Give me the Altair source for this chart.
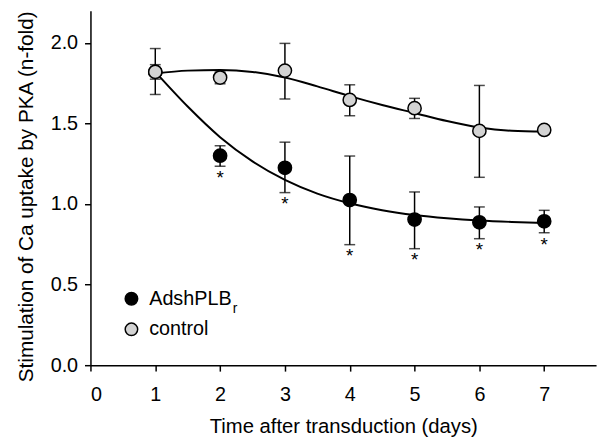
import altair as alt
import pandas as pd

# ---- data ----
days = [1, 2, 3, 4, 5, 6, 7]

sh_mean = [1.82, 1.30, 1.225, 1.025, 0.904, 0.887, 0.893]
sh_lo   = [1.68, 1.235, 1.071, 0.748, 0.723, 0.785, 0.822]
sh_hi   = [1.965, 1.362, 1.384, 1.298, 1.075, 0.982, 0.961]

ct_mean = [1.82, 1.785, 1.828, 1.646, 1.595, 1.454, 1.46]
ct_lo   = [1.775, 1.747, 1.652, 1.548, 1.531, 1.166, 1.44]
ct_hi   = [1.865, 1.82, 1.997, 1.74, 1.656, 1.736, 1.475]

star_days = [2, 3, 4, 5, 6, 7]

curve_t  = [1, 1.5, 2, 2.5, 3, 3.5, 4, 4.5, 5, 5.5, 6, 6.5, 7]
sh_curve = [1.82, 1.605, 1.415, 1.265, 1.15, 1.065, 1.005, 0.962, 0.932, 0.912, 0.898, 0.889, 0.883]
ct_curve = [1.81, 1.828, 1.832, 1.82, 1.785, 1.73, 1.67, 1.615, 1.565, 1.515, 1.475, 1.455, 1.45]

x_ticks = [0, 1, 2, 3, 4, 5, 6, 7]
y_ticks = [0.0, 0.5, 1.0, 1.5, 2.0]

legend_labels = ["AdshPLB", "control"]
legend_fills = ["#000000", "#d3d3d3"]

FONT = "Liberation Sans"

pts = pd.concat([
    pd.DataFrame({"day": days, "mean": sh_mean, "lo": sh_lo, "hi": sh_hi, "series": "sh"}),
    pd.DataFrame({"day": days, "mean": ct_mean, "lo": ct_lo, "hi": ct_hi, "series": "ct"}),
])
curves = pd.concat([
    pd.DataFrame({"t": curve_t, "v": sh_curve, "series": "sh"}),
    pd.DataFrame({"t": curve_t, "v": ct_curve, "series": "ct"}),
])
stars = pd.DataFrame({"day": star_days,
                      "lo": [sh_lo[days.index(d)] for d in star_days]})

xs = alt.Scale(domain=[0, 7.8], nice=False, zero=False)
ys = alt.Scale(domain=[0, 2.2], nice=False, zero=False)
fill_scale = alt.Scale(domain=["sh", "ct"], range=legend_fills)

x_axis = alt.Axis(values=x_ticks, format="d", title="Time after transduction (days)",
                  grid=False, labelPadding=14, titlePadding=12, titleFontSize=20.5)
y_axis = alt.Axis(values=y_ticks, format=".1f", title="Stimulation of Ca uptake by PKA (n-fold)",
                  grid=False, labelPadding=7, titlePadding=14, titleFontSize=21, titleY=188)

line = alt.Chart(curves).mark_line(color="black", strokeWidth=2, interpolate="monotone").encode(
    x=alt.X("t:Q", scale=xs, axis=x_axis),
    y=alt.Y("v:Q", scale=ys, axis=y_axis),
    detail="series:N",
)

def series_layers(key):
    d = pts[pts.series == key]
    base = alt.Chart(d)
    rule = base.mark_rule(color="black", strokeWidth=1.5).encode(
        x=alt.X("day:Q", scale=xs), y=alt.Y("lo:Q", scale=ys), y2="hi:Q")
    cap_lo = base.mark_tick(color="black", orient="horizontal", size=11, thickness=1.5).encode(
        x=alt.X("day:Q", scale=xs), y=alt.Y("lo:Q", scale=ys))
    cap_hi = base.mark_tick(color="black", orient="horizontal", size=11, thickness=1.5).encode(
        x=alt.X("day:Q", scale=xs), y=alt.Y("hi:Q", scale=ys))
    dot = base.mark_point(shape="circle", filled=True, size=180, stroke="black",
                          strokeWidth=1.5, opacity=1).encode(
        x=alt.X("day:Q", scale=xs), y=alt.Y("mean:Q", scale=ys),
        fill=alt.Fill("series:N", scale=fill_scale, legend=None))
    return [rule, cap_lo, cap_hi, dot]

star = alt.Chart(stars).mark_text(text="*", font=FONT, fontSize=19, baseline="top", dy=3,
                                  color="black").encode(
    x=alt.X("day:Q", scale=xs), y=alt.Y("lo:Q", scale=ys))

# manual legend (pixel positions within the plot area)
one = pd.DataFrame({"k": [0]})
leg_layers = []
for i, (lab, col) in enumerate(zip(legend_labels, legend_fills)):
    yy = 291.7 + 31 * i
    leg_layers.append(alt.Chart(one).mark_point(shape="circle", filled=True, size=160,
                                                stroke="black", strokeWidth=1.5, opacity=1,
                                                fill=col).encode(
        x=alt.value(41.5), y=alt.value(yy)))
    leg_layers.append(alt.Chart(one).mark_text(align="left", baseline="middle", font=FONT,
                                               fontSize=20, color="black", text=lab).encode(
        x=alt.value(59.5), y=alt.value(yy)))
leg_layers.append(alt.Chart(one).mark_text(align="left", baseline="alphabetic", font=FONT,
                                           fontSize=14, color="black", text="r").encode(
    x=alt.value(144), y=alt.value(306)))

layers = [line] + series_layers("sh") + series_layers("ct") + [star] + leg_layers

chart = alt.layer(*layers).properties(
    width=512, height=359,
    background="white",
    autosize=alt.AutoSizeParams(type="none"),
    padding={"left": 83.5, "top": 0, "right": 5, "bottom": 70},
).configure_view(stroke=None).configure_axis(
    domainColor="black", domainWidth=1.5, tickColor="black", tickWidth=1.5, tickSize=6,
    labelColor="black", titleColor="black", labelFont=FONT, titleFont=FONT,
    labelFontSize=20, titleFontWeight="normal",
)

chart.save("out.html", embed_options={"renderer": "svg", "actions": False})
